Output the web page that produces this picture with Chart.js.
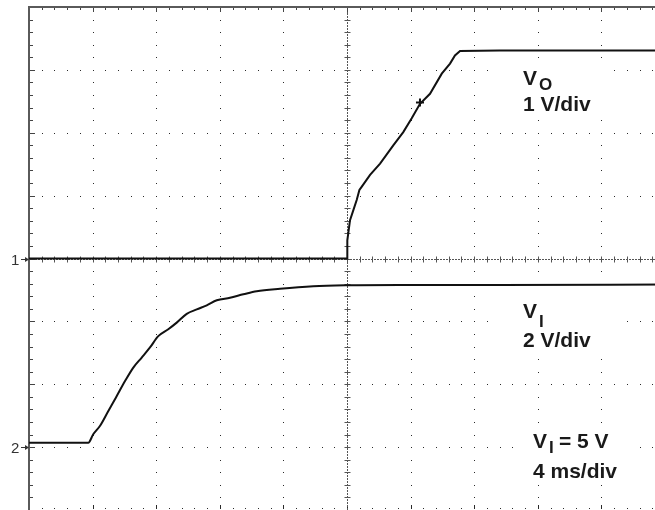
<!DOCTYPE html>
<html>
<head>
<meta charset="utf-8">
<script src="https://cdn.jsdelivr.net/npm/chart.js@4/dist/chart.umd.min.js"></script>
<style>
html, body { margin: 0; padding: 0; background: #fff; overflow: hidden; }
#wrap { width: 655px; height: 510px; overflow: hidden; position: relative; }
#chart { position: absolute; left: 0; top: 0; }
</style>
</head>
<body>
<div id="wrap"><canvas id="chart" width="680" height="520"></canvas></div>
<script>
// scope capture: 4 ms/div, CH1 = VO (1 V/div), CH2 = VI (2 V/div)
var timeVO = [0, 20.0, 20.02, 20.19, 20.40, 20.61, 20.78, 20.92, 21.45, 22.08, 22.91, 23.54, 24.07, 24.59, 25.22, 25.96, 26.48, 26.79, 27.11, 29.6, 40];
var voltsVO = [0, 0, 0.29, 0.61, 0.77, 0.93, 1.09, 1.14, 1.33, 1.51, 1.80, 2.01, 2.23, 2.46, 2.62, 2.94, 3.10, 3.23, 3.30, 3.31, 3.31];

var timeVI = [0, 3.73, 4.04, 4.47, 4.99, 5.47, 6.04, 6.56, 7.09, 7.61, 8.13, 8.76, 9.29, 9.92, 10.55, 11.18, 11.81, 12.64, 13.48, 14.32, 15.79, 17.88, 19.98, 23.3, 29.6, 40];
var voltsVI = [0.14, 0.14, 0.41, 0.68, 1.15, 1.58, 2.10, 2.53, 2.85, 3.17, 3.53, 3.75, 3.96, 4.24, 4.38, 4.51, 4.67, 4.75, 4.86, 4.96, 5.04, 5.12, 5.15, 5.16, 5.16, 5.17];

var cursorT = [24.59];
var cursorV = [2.48];

var labelVO = ['V', 'O', '1 V/div'];
var labelVI = ['V', 'I', '2 V/div'];
var labelNote = ['V', 'I', '= 5 V', '4 ms/div'];
var channelMarks = ['1', '2'];

function toPoints(xs, ys) {
  return xs.map(function(x, i) { return {x: x, y: ys[i]}; });
}

var FONT = '"Liberation Sans", Arial, sans-serif';

var graticule = {
  id: 'graticule',
  beforeDatasetsDraw: function(chart) {
    var ctx = chart.ctx, a = chart.chartArea;
    var sx = chart.scales.x, sy = chart.scales.yo;
    var i, j, px, py;
    ctx.save();

    // dotted graticule
    ctx.fillStyle = '#2a2a2a';
    for (i = 1; i <= 10; i++) {
      if (i == 5) continue;
      px = Math.round(sx.getPixelForValue(i * 4));
      for (j = 1; j < 40; j++) {
        py = Math.round(sy.getPixelForValue(-4 + j * 0.2));
        ctx.fillRect(px, py, 1, 1);
      }
    }
    for (i = 1; i <= 8; i++) {
      if (i == 4) continue;
      py = Math.min(Math.round(sy.getPixelForValue(4 - i)), a.bottom - 2);
      for (j = 1; j < 50; j++) {
        px = Math.round(sx.getPixelForValue(j * 0.8));
        ctx.fillRect(px, py, 1, 1);
        if (i == 8 && j % 5 == 0) ctx.fillRect(px, py - 3, 1, 3);
      }
    }

    // center cross with minor ticks
    var cx = Math.round(sx.getPixelForValue(20)) + 0.5;
    var cy = Math.round(sy.getPixelForValue(0)) + 0.5;
    ctx.strokeStyle = '#555';
    ctx.lineWidth = 1;
    ctx.setLineDash([2, 1]);
    ctx.beginPath();
    ctx.moveTo(cx, a.top); ctx.lineTo(cx, a.bottom);
    ctx.moveTo(a.left, cy); ctx.lineTo(a.right, cy);
    ctx.stroke();
    ctx.setLineDash([]);
    ctx.beginPath();
    for (j = 1; j < 40; j++) {
      py = Math.round(sy.getPixelForValue(-4 + j * 0.2)) + 0.5;
      ctx.moveTo(cx - 3, py); ctx.lineTo(cx + 3, py);
    }
    for (j = 1; j < 50; j++) {
      px = Math.round(sx.getPixelForValue(j * 0.8)) + 0.5;
      ctx.moveTo(px, cy - 3); ctx.lineTo(px, cy + 3);
    }
    ctx.moveTo(cx, a.top); ctx.lineTo(cx, a.top + 8);
    ctx.stroke();

    // border ticks (top and left)
    ctx.strokeStyle = '#444';
    ctx.beginPath();
    for (j = 1; j < 50; j++) {
      px = Math.round(sx.getPixelForValue(j * 0.8)) + 0.5;
      ctx.moveTo(px, a.top); ctx.lineTo(px, a.top + (j % 5 == 0 ? 5 : 3));
    }
    for (j = 1; j < 40; j++) {
      py = Math.round(sy.getPixelForValue(-4 + j * 0.2)) + 0.5;
      ctx.moveTo(a.left, py); ctx.lineTo(a.left + (j % 5 == 0 ? 6 : 4), py);
    }
    ctx.stroke();

    // solid top / left frame
    ctx.strokeStyle = '#5a5a5a';
    ctx.lineWidth = 2;
    ctx.beginPath();
    ctx.moveTo(a.left, a.bottom); ctx.lineTo(a.left, a.top); ctx.lineTo(a.right, a.top);
    ctx.stroke();

    // white boxes behind the annotations
    ctx.fillStyle = '#fff';
    ctx.fillRect(500, 62, 113, 56);
    ctx.fillRect(500, 296, 115, 56);
    ctx.fillRect(513, 428, 127, 56);

    // channel ground markers
    ctx.fillStyle = '#333';
    ctx.strokeStyle = '#333';
    ctx.lineWidth = 1;
    ctx.font = '15px ' + FONT;
    ctx.textBaseline = 'alphabetic';
    var marks = [sy.getPixelForValue(0), chart.scales.yi.getPixelForValue(0)];
    marks.forEach(function(my, k) {
      my = Math.round(my) + 0.5;
      ctx.fillText(channelMarks[k], 11, my + 5);
      ctx.beginPath();
      ctx.moveTo(21, my); ctx.lineTo(27, my);
      ctx.stroke();
      ctx.beginPath();
      ctx.moveTo(29, my); ctx.lineTo(25, my - 2.5); ctx.lineTo(25, my + 2.5); ctx.closePath();
      ctx.fill();
    });
    ctx.restore();
  },
  afterDatasetsDraw: function(chart) {
    var ctx = chart.ctx;
    ctx.save();
    ctx.fillStyle = '#1a1a1a';
    ctx.textBaseline = 'alphabetic';
    var big = 'bold 21px ' + FONT, sub = 'bold 17px ' + FONT;

    ctx.font = big; ctx.fillText(labelVO[0], 523, 85);
    ctx.font = sub; ctx.fillText(labelVO[1], 539, 90);
    ctx.font = big; ctx.fillText(labelVO[2], 523, 111);

    ctx.font = big; ctx.fillText(labelVI[0], 523, 318);
    ctx.font = sub; ctx.fillText(labelVI[1], 539, 327);
    ctx.font = big; ctx.fillText(labelVI[2], 523, 347);

    ctx.font = big; ctx.fillText(labelNote[0], 533, 448);
    ctx.font = sub; ctx.fillText(labelNote[1], 549, 453);
    ctx.font = big; ctx.fillText(labelNote[2], 559, 448);
    ctx.font = big; ctx.fillText(labelNote[3], 533, 478);
    ctx.restore();
  }
};

var ctx = document.getElementById('chart').getContext('2d');
var chart = new Chart(ctx, {
  type: 'line',
  data: {
    datasets: [{
      label: 'VO',
      data: toPoints(timeVO, voltsVO),
      yAxisID: 'yo',
      borderColor: '#111',
      borderWidth: 2,
      pointRadius: 0,
      tension: 0
    }, {
      label: 'VI',
      data: toPoints(timeVI, voltsVI),
      yAxisID: 'yi',
      borderColor: '#111',
      borderWidth: 2,
      pointRadius: 0,
      cubicInterpolationMode: 'monotone'
    }, {
      type: 'scatter',
      label: 'cursor',
      data: toPoints(cursorT, cursorV),
      yAxisID: 'yo',
      pointStyle: 'cross',
      pointRadius: 4,
      borderWidth: 2,
      borderColor: '#111'
    }]
  },
  options: {
    responsive: false,
    animation: false,
    layout: { padding: { left: 29, top: 7, right: 15, bottom: 10 } },
    plugins: {
      legend: { display: false },
      tooltip: { enabled: false }
    },
    scales: {
      x: { type: 'linear', min: 0, max: 40, display: false },
      yo: { type: 'linear', min: -4, max: 4, display: false },
      yi: { type: 'linear', min: -2, max: 14, display: false }
    }
  },
  plugins: [graticule]
});
</script>
</body>
</html>
